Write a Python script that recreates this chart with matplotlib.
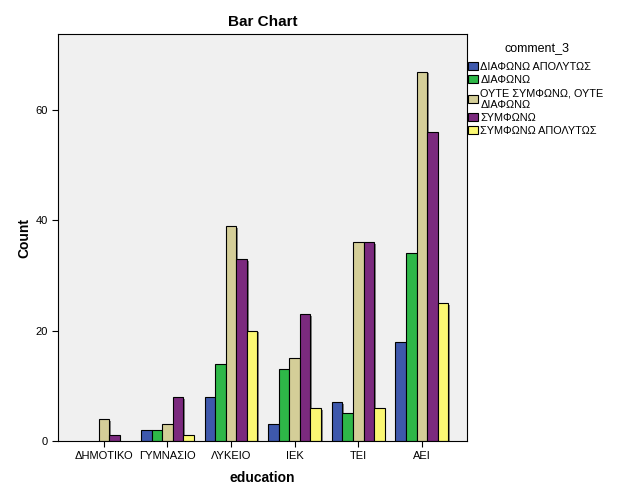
import numpy as np
import matplotlib
matplotlib.use("Agg")
import matplotlib.pyplot as plt
import matplotlib.patheffects as pe

plt.rcParams['font.family'] = ['Liberation Sans', 'DejaVu Sans']

categories = ["ΔΗΜΟΤΙΚΟ", "ΓΥΜΝΑΣΙΟ", "ΛΥΚΕΙΟ", "ΙΕΚ", "ΤΕΙ", "ΑΕΙ"]
series_names = ["ΔΙΑΦΩΝΩ ΑΠΟΛΥΤΩΣ", "ΔΙΑΦΩΝΩ", "ΟΥΤΕ ΣΥΜΦΩΝΩ, ΟΥΤΕ\nΔΙΑΦΩΝΩ",
                "ΣΥΜΦΩΝΩ", "ΣΥΜΦΩΝΩ ΑΠΟΛΥΤΩΣ"]
diafono_apolytos = [0, 2, 8, 3, 7, 18]
diafono = [0, 2, 14, 13, 5, 34]
oute = [4, 3, 39, 15, 36, 67]
symfono = [1, 8, 33, 23, 36, 56]
symfono_apolytos = [0, 1, 20, 6, 6, 25]
colors = ['#3E58AC', '#2EB848', '#D4CE98', '#7B2A7E', '#FBF873']

values = [diafono_apolytos, diafono, oute, symfono, symfono_apolytos]

fig = plt.figure(figsize=(6.26, 5.01), dpi=100)
ax = fig.add_axes([58/626, 60/501, 409/626, 407/501])
ax.set_facecolor('#F0F0F0')

barWidth = 0.166
x = np.arange(len(categories))
shadow = [pe.SimplePatchShadow(offset=(1.2, -1.2), shadow_rgbFace='#555555', alpha=0.7), pe.Normal()]
for i, vals in enumerate(values):
    pos = x + (i - 2) * barWidth
    # skip zero-height bars, SPSS does not draw them
    v = np.array(vals, dtype=float)
    bars = ax.bar(pos[v > 0], v[v > 0], width=barWidth, color=colors[i],
                  edgecolor='black', linewidth=0.8, label=series_names[i])
    for b in bars:
        b.set_path_effects(shadow)

ax.set_xlim(-0.72, 5.71)
ax.set_ylim(0, 73.8)
ax.set_yticks([0, 20, 40, 60])
ax.set_xticks(x)
ax.set_xticklabels(categories)
ax.tick_params(axis='both', labelsize=8, length=4, width=0.8, direction='out')
for s in ax.spines.values():
    s.set_linewidth(0.8)

ax.set_xlabel('education', fontsize=10, fontweight='bold', labelpad=7)
ax.set_ylabel('Count', fontsize=10, fontweight='bold', labelpad=3)
ax.set_title('Bar Chart', fontsize=11, fontweight='bold', pad=6)

# legend title and entries placed by hand
fig.text(537/626, 1 - 48/501, 'comment_3', fontsize=9, ha='center', va='center')
handles = [plt.Rectangle((0, 0), 1, 1, facecolor=c, edgecolor='black', linewidth=0.8) for c in colors]
leg = fig.legend(handles, series_names, loc='upper left', bbox_to_anchor=(468/626, 1 - 62/501),
                 frameon=False, fontsize=7.8, handlelength=0.92, handleheight=0.82,
                 handletextpad=0.22, labelspacing=0.28, borderaxespad=0, borderpad=0)

plt.savefig('out.png', dpi=100)
